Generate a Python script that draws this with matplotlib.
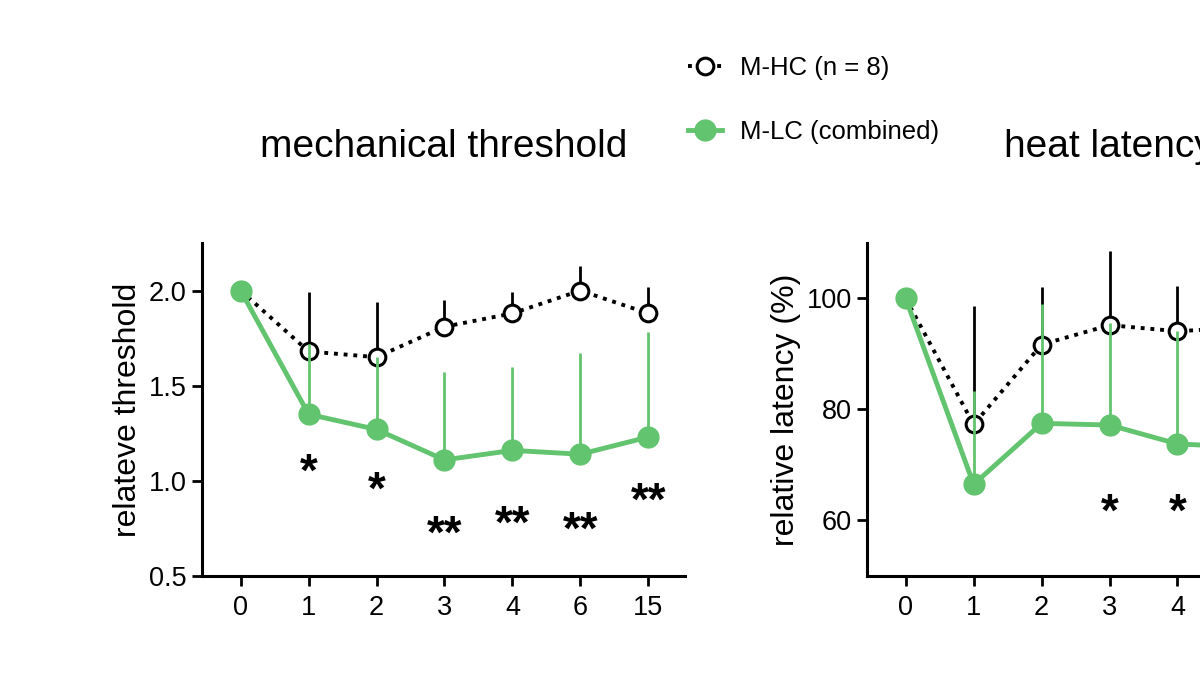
import matplotlib.pyplot as plt
from matplotlib.lines import Line2D

plt.rcParams['font.family'] = ['Liberation Sans', 'DejaVu Sans']

days = ['0', '1', '2', '3', '4', '6', '15']

# mechanical threshold
mech_hc = [2.0, 1.68, 1.65, 1.81, 1.88, 2.0, 1.88]
mech_hc_err = [0.0, 0.31, 0.29, 0.14, 0.11, 0.13, 0.14]
mech_lc = [2.0, 1.35, 1.27, 1.11, 1.16, 1.14, 1.23]
mech_lc_err = [0.0, 0.37, 0.38, 0.46, 0.44, 0.53, 0.55]
mech_stars = ['', '*', '*', '**', '**', '**', '**']
mech_star_y = [0, 1.035, 0.945, 0.71, 0.765, 0.735, 0.885]

# heat latency (right part of the panel is cut off in the original)
heat_hc = [100, 77.3, 91.7, 95.2, 94.1, 94.8, 95.0]
heat_hc_err = [0, 21.3, 10.3, 13.3, 8.1, 8.0, 8.0]
heat_lc = [100, 66.5, 77.5, 77.2, 73.8, 73.2, 75.0]
heat_lc_err = [0, 16.9, 21.5, 18.3, 20.3, 20.0, 20.0]
heat_stars = ['', '', '', '*', '*', '', '']
heat_star_y = [0, 0, 0, 61.3, 61.3, 0, 0]

green = '#62C46E'


def panel(ax, hc, hc_err, lc, lc_err, stars, star_y, title, ylabel, ylim, yticks):
    x = range(len(days))
    ax.errorbar(x, hc, yerr=[[0] * len(hc), hc_err], fmt='none', ecolor='black',
                elinewidth=2, capsize=0, zorder=1)
    ax.plot(x, hc, color='black', lw=2.8, ls=(0, (1, 1.5)), marker='o', ms=12,
            mfc='white', mec='black', mew=2.2, zorder=2)
    ax.errorbar(x, lc, yerr=[[0] * len(lc), lc_err], fmt='none', ecolor=green,
                elinewidth=2, capsize=0, zorder=3)
    ax.plot(x, lc, color=green, lw=3.5, marker='o', ms=15, mfc=green, mec=green,
            zorder=4)
    for i, s in enumerate(stars):
        if s:
            ax.text(i, star_y[i], s, ha='center', va='center', fontsize=33,
                    fontweight='bold')
    ax.set_xlim(-0.57, 6.54)
    ax.set_ylim(*ylim)
    ax.set_yticks(yticks)
    ax.set_xticks(list(x))
    ax.set_xticklabels(days)
    ax.set_ylabel(ylabel, fontsize=23, labelpad=4)
    ax.set_title(title, fontsize=28, pad=62)
    for side in ['top', 'right']:
        ax.spines[side].set_visible(False)
    for side in ['left', 'bottom']:
        ax.spines[side].set_linewidth(2.2)
    ax.tick_params(width=2, length=7, labelsize=19.5, pad=4)
    ax.tick_params(axis='x', pad=7)


fig = plt.figure(figsize=(12, 6.75), dpi=100)
ax1 = fig.add_axes([0.1683, 0.1467, 0.4025, 0.4933])
ax2 = fig.add_axes([0.7225, 0.1467, 0.4025, 0.4933])

panel(ax1, mech_hc, mech_hc_err, mech_lc, mech_lc_err, mech_stars, mech_star_y,
      'mechanical threshold', 'relateve threshold', (0.5, 2.25), [0.5, 1.0, 1.5, 2.0])
ax1.set_yticklabels(['0.5', '1.0', '1.5', '2.0'])
panel(ax2, heat_hc, heat_hc_err, heat_lc, heat_lc_err, heat_stars, heat_star_y,
      'heat latency', 'relative latency (%)', (50, 110), [60, 80, 100])

handles = [
    Line2D([], [], color='black', lw=2.8, ls=(0, (1, 1.5)), marker='o', ms=12,
           mfc='white', mec='black', mew=2.2),
    Line2D([], [], color=green, lw=3.5, marker='o', ms=15, mfc=green, mec=green),
]
fig.legend(handles, ['M-HC (n = 8)', 'M-LC (combined)'], loc='upper left',
           bbox_to_anchor=(0.573, 0.917), frameon=False, fontsize=18.5,
           handlelength=1.35, handletextpad=0.7, labelspacing=1.55,
           borderpad=0, borderaxespad=0)

fig.savefig('out.png', dpi=100)
